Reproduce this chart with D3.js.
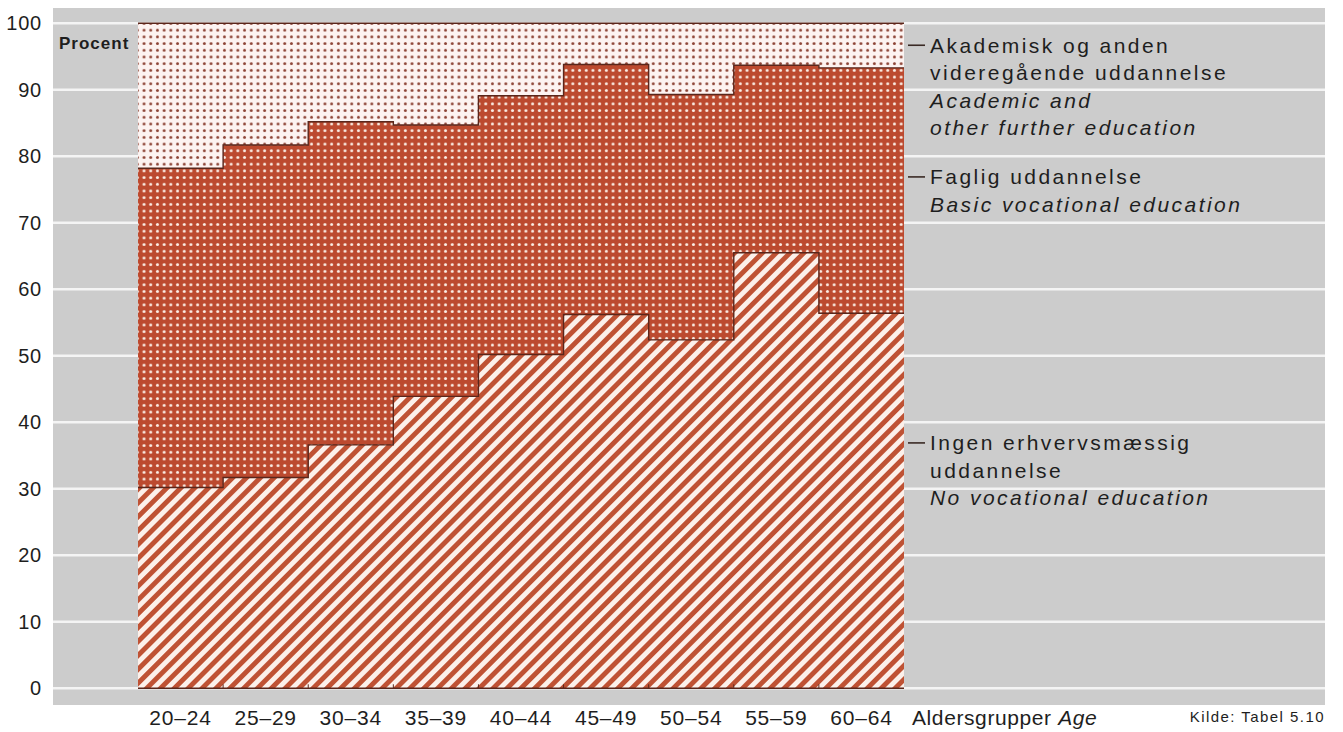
<!DOCTYPE html>
<html><head><meta charset="utf-8">
<script src="https://cdn.jsdelivr.net/npm/d3@7"></script>
<style>
html,body{margin:0;padding:0;background:#fff;}
svg{display:block;font-family:"Liberation Sans",Arial,sans-serif;}
</style></head>
<body><svg id="c" width="1343" height="732"></svg>
<script>
// ---- data ----
const ageGroups = ["20–24","25–29","30–34","35–39","40–44","45–49","50–54","55–59","60–64"];
const noVocational = [30.2, 31.7, 36.6, 43.9, 50.2, 56.2, 52.4, 65.5, 56.4];
const vocational   = [48.0, 50.0, 48.6, 40.8, 38.9, 37.6, 36.9, 28.2, 36.9];
const academic     = [21.8, 18.3, 14.8, 15.3, 10.9, 6.2, 10.7, 6.3, 6.7];
const yTicks = [0,10,20,30,40,50,60,70,80,90,100];
const seriesKeys = ["noVocational","vocational","academic"];
const legendLines = {
  academic: [["Akademisk og anden",false],["videregående uddannelse",false],["Academic and",true],["other further education",true]],
  vocational: [["Faglig uddannelse",false],["Basic vocational education",true]],
  noVocational: [["Ingen erhvervsmæssig",false],["uddannelse",false],["No vocational education",true]]
};
const legendAt = {academic: 96.7, vocational: 76.9, noVocational: 36.9};

// ---- layout ----
const svg = d3.select("#c");
const x = d3.scaleBand().domain(ageGroups).range([138, 904]).paddingInner(0).paddingOuter(0);
const y = d3.scaleLinear().domain([0,100]).range([688.3, 23.3]);
const textCol = "#1e1e1e";

const defs = svg.append("defs");
// dotted red (vocational)
const pv = defs.append("pattern").attr("id","pVoc").attr("patternUnits","userSpaceOnUse")
  .attr("width",6.7).attr("height",6.7);
pv.append("rect").attr("width",6.7).attr("height",6.7).attr("fill","#bc4a2f");
pv.append("circle").attr("cx",3.35).attr("cy",3.35).attr("r",1.5).attr("fill","#fbefe6");
// hatch (no vocational)
const ph = defs.append("pattern").attr("id","pNo").attr("patternUnits","userSpaceOnUse")
  .attr("width",9.8).attr("height",9.8).attr("patternTransform","rotate(45)");
ph.append("rect").attr("width",9.8).attr("height",9.8).attr("fill","#fcf0ea");
ph.append("rect").attr("width",4.9).attr("height",9.8).attr("fill","#bf5234");
// light dotted (academic)
const pa = defs.append("pattern").attr("id","pAc").attr("patternUnits","userSpaceOnUse")
  .attr("width",6.7).attr("height",6.7);
pa.append("rect").attr("width",6.7).attr("height",6.7).attr("fill","#fdf3f1");
pa.append("circle").attr("cx",3.35).attr("cy",3.35).attr("r",1.45).attr("fill","#8c4234");
const fills = {noVocational:"url(#pNo)", vocational:"url(#pVoc)", academic:"url(#pAc)"};

// background panel
svg.append("rect").attr("x",53).attr("y",8).attr("width",1272).attr("height",697).attr("fill","#cccccc");
// gridlines
svg.append("g").selectAll("line").data(yTicks).join("line")
  .attr("x1",53).attr("x2",1325).attr("y1",d=>y(d)).attr("y2",d=>y(d))
  .attr("stroke","#f4f4f4").attr("stroke-width",2.4);

// y tick labels
svg.append("g").selectAll("text").data(yTicks).join("text")
  .attr("x",42).attr("y",d=>y(d)).attr("dy","0.35em").attr("text-anchor","end")
  .attr("font-size",20).attr("letter-spacing",0.8).attr("fill",textCol).text(d=>d);
svg.append("text").attr("x",59).attr("y",43).attr("dy","0.35em").attr("font-size",17)
  .attr("font-weight","bold").attr("letter-spacing",1).attr("fill",textCol).text("Procent");

// stack
const rows = ageGroups.map((g,i)=>({group:g, noVocational:noVocational[i], vocational:vocational[i], academic:academic[i]}));
const stacked = d3.stack().keys(seriesKeys)(rows);
const stepPts = s => s.flatMap(d=>[
  {x:x(d.data.group), y0:d[0], y1:d[1]},
  {x:x(d.data.group)+x.bandwidth(), y0:d[0], y1:d[1]}
]);
const area = d3.area().x(p=>p.x).y0(p=>y(p.y0)).y1(p=>y(p.y1));
const line = d3.line().x(p=>p.x).y(p=>y(p.y1));

svg.append("g").selectAll("path").data(stacked).join("path")
  .attr("d",s=>area(stepPts(s))).attr("fill",s=>fills[s.key]);
svg.append("g").selectAll("path").data(stacked).join("path")
  .attr("d",s=>line(stepPts(s))).attr("fill","none").attr("stroke","#5a261b").attr("stroke-width",1.4);
// baseline
svg.append("line").attr("x1",x.range()[0]).attr("x2",x.range()[1]).attr("y1",y(0)).attr("y2",y(0))
  .attr("stroke","#5a261b").attr("stroke-width",1.4);
// small boundary ticks at bottom
svg.append("g").selectAll("line").data(ageGroups.slice(1)).join("line")
  .attr("x1",d=>x(d)).attr("x2",d=>x(d)).attr("y1",y(0)).attr("y2",y(0)-4)
  .attr("stroke","#5a261b").attr("stroke-width",1);

// x labels
svg.append("g").selectAll("text").data(ageGroups).join("text")
  .attr("x",d=>x(d)+x.bandwidth()/2).attr("y",718).attr("dy","0.35em").attr("text-anchor","middle")
  .attr("font-size",21).attr("letter-spacing",0.8).attr("fill",textCol).text(d=>d);
const ax = svg.append("text").attr("x",912).attr("y",718).attr("dy","0.35em")
  .attr("font-size",21).attr("letter-spacing",0.6).attr("fill",textCol);
ax.append("tspan").text("Aldersgrupper ");
ax.append("tspan").attr("font-style","italic").text("Age");
svg.append("text").attr("x",1325).attr("y",717).attr("dy","0.35em").attr("text-anchor","end")
  .attr("font-size",15).attr("letter-spacing",1.45).attr("fill",textCol).text("Kilde: Tabel 5.10");

// legend labels
seriesKeys.forEach(k=>{
  const y0 = y(legendAt[k]);
  svg.append("line").attr("x1",908).attr("x2",925).attr("y1",y0).attr("y2",y0)
    .attr("stroke","#3a2a25").attr("stroke-width",1.6);
  legendLines[k].forEach((ln,i)=>{
    svg.append("text").attr("x",930).attr("y",y0+i*27.5).attr("dy","0.35em")
      .attr("font-size",21).attr("letter-spacing",2.45).attr("fill",textCol)
      .attr("font-style",ln[1]?"italic":"normal").text(ln[0]);
  });
});
</script></body></html>
